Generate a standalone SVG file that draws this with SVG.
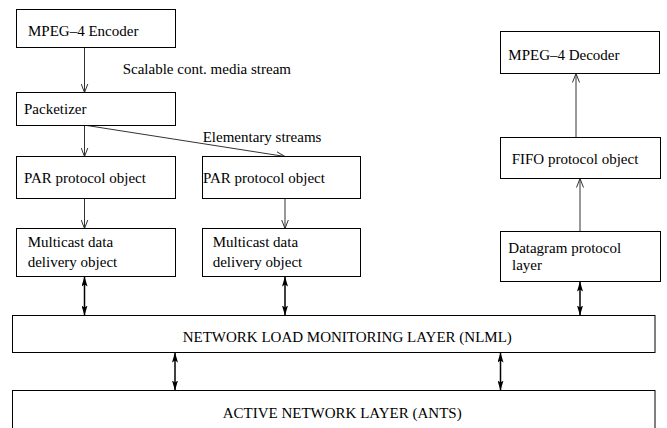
<svg xmlns="http://www.w3.org/2000/svg" width="667" height="428" viewBox="0 0 667 428">
<style>
  .box { fill: #ffffff; stroke: #000000; stroke-width: 1; }
  .t { font-family: "Liberation Serif", "Times New Roman", serif; font-size: 15px; fill: #000000; }
  .single { stroke: #333333; stroke-width: 1; fill: none; marker-end: url(#open); }
  .double { stroke: #000000; stroke-width: 1.5; fill: none; marker-start: url(#solid); marker-end: url(#solid); }
</style>
<defs>
  <marker id="open" viewBox="0 0 9 8" refX="9" refY="4" markerWidth="9" markerHeight="8" markerUnits="userSpaceOnUse" orient="auto">
    <path d="M0,0.5 L9,4 L0,7.5" fill="none" stroke="#333333" stroke-width="1"/>
  </marker>
  <marker id="solid" viewBox="0 0 10 6" refX="10" refY="3" markerWidth="10" markerHeight="6" markerUnits="userSpaceOnUse" orient="auto-start-reverse">
    <path d="M0,0 L10,3 L0,6 L2,3 Z" fill="#000000"/>
  </marker>
</defs>
<rect width="667" height="428" fill="#ffffff"/>

<g id="connectors">
  <line class="single" x1="84.5" y1="47.5" x2="84.5" y2="92.5"/>
  <line class="single" x1="84.5" y1="125.5" x2="84.5" y2="156.5"/>
  <line class="single" x1="87" y1="125.5" x2="285" y2="156.5"/>
  <line class="single" x1="84.5" y1="198.5" x2="84.5" y2="228.5"/>
  <line class="single" x1="285" y1="198.5" x2="285" y2="228.5"/>
  <line class="single" x1="580" y1="231.5" x2="580" y2="178.5"/>
  <line class="single" x1="576" y1="137.5" x2="576" y2="73.5"/>
  <line class="double" x1="84.5" y1="276.5" x2="84.5" y2="315.5"/>
  <line class="double" x1="285" y1="276.5" x2="285" y2="315.5"/>
  <line class="double" x1="580" y1="281.5" x2="580" y2="315.5"/>
  <line class="double" x1="175" y1="352.5" x2="175" y2="390.5"/>
  <line class="double" x1="500.5" y1="352.5" x2="500.5" y2="390.5"/>
  <text class="t" x="122.7" y="74">Scalable cont. media stream</text>
  <text class="t" x="202.7" y="141.5">Elementary streams</text>
</g>

<g id="encoder">
  <rect class="box" x="16.5" y="9.5" width="159" height="38"/>
  <text class="t" x="28" y="36">MPEG–4 Encoder</text>
</g>
<g id="packetizer">
  <rect class="box" x="16.5" y="92.5" width="159" height="33"/>
  <text class="t" x="24" y="114">Packetizer</text>
</g>
<g id="par1">
  <rect class="box" x="16.5" y="156.5" width="159" height="42"/>
  <text class="t" x="24" y="182.5">PAR protocol object</text>
</g>
<g id="par2">
  <rect class="box" x="202.5" y="156.5" width="158" height="42"/>
  <text class="t" x="203" y="182.5">PAR protocol object</text>
</g>
<g id="multicast1">
  <rect class="box" x="16.5" y="228.5" width="159" height="48"/>
  <text class="t" x="27.7" y="247.3">Multicast data</text>
  <text class="t" x="27.7" y="266.7">delivery object</text>
</g>
<g id="multicast2">
  <rect class="box" x="202.5" y="228.5" width="158" height="48"/>
  <text class="t" x="212.7" y="247.3">Multicast data</text>
  <text class="t" x="212.7" y="266.7">delivery object</text>
</g>
<g id="decoder">
  <rect class="box" x="500.5" y="31.5" width="159" height="42"/>
  <text class="t" x="508.3" y="60">MPEG–4 Decoder</text>
</g>
<g id="fifo">
  <rect class="box" x="500.5" y="137.5" width="160" height="41"/>
  <text class="t" x="511.7" y="164">FIFO protocol object</text>
</g>
<g id="datagram">
  <rect class="box" x="500.5" y="231.5" width="160" height="50"/>
  <text class="t" x="508.3" y="252.5">Datagram protocol</text>
  <text class="t" x="512" y="269.5">layer</text>
</g>
<g id="nlml">
  <rect class="box" x="12.5" y="315.5" width="642.5" height="37"/>
  <text class="t" x="182.7" y="342">NETWORK LOAD MONITORING LAYER (NLML)</text>
</g>
<g id="ants">
  <rect class="box" x="12.5" y="390.5" width="642.5" height="50"/>
  <text class="t" x="222.7" y="418">ACTIVE NETWORK LAYER (ANTS)</text>
</g>
</svg>
